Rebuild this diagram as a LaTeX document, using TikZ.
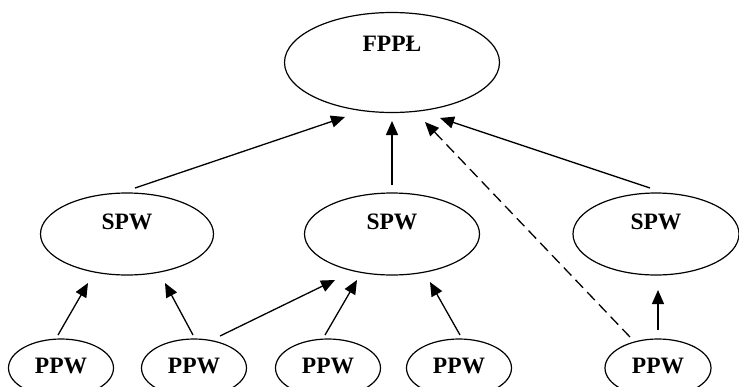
\documentclass[tikz,border=0pt]{standalone}
\usepackage{fontspec}
\setmainfont{Liberation Serif}
\usetikzlibrary{shapes.geometric,arrows.meta,calc}
\tikzset{
  ell/.style={draw, ellipse, line width=1.2pt, inner sep=0pt},
  lbl/.style={inner sep=0pt, font=\bfseries\fontsize{23.5}{26}\selectfont},
  arr/.style={line width=1.3pt, -{Triangle[length=14pt,width=12pt]}},
  dsh/.style={arr, dash pattern=on 11pt off 6pt}
}
\begin{document}
\begin{tikzpicture}[x=1pt,y=-1pt]
\useasboundingbox (0,0) rectangle (739,386);
\clip (0,0) rectangle (739,386);
% top
\node[ell, minimum width=215pt, minimum height=100pt,
      label={[lbl,yshift=19pt]center:FPPŁ}] (f) at (392,62.5) {};
% middle
\node[ell, minimum width=173pt, minimum height=82pt,
      label={[lbl,yshift=12pt]center:SPW}] (spw1) at (127,234) {};
\node[ell, minimum width=175pt, minimum height=82pt,
      label={[lbl,yshift=12pt]center:SPW}] (spw2) at (392,234) {};
\node[ell, minimum width=166pt, minimum height=82pt,
      label={[lbl,yshift=12pt]center:SPW}] (spw3) at (656,234) {};
% bottom
\node[ell, minimum width=105pt, minimum height=58pt,
      label={[lbl,yshift=2pt]center:PPW}] (ppw1) at (61,368) {};
\node[ell, minimum width=105pt, minimum height=58pt,
      label={[lbl,yshift=2pt]center:PPW}] (ppw2) at (194,368) {};
\node[ell, minimum width=105pt, minimum height=58pt,
      label={[lbl,yshift=2pt]center:PPW}] (ppw3) at (328,368) {};
\node[ell, minimum width=105pt, minimum height=58pt,
      label={[lbl,yshift=2pt]center:PPW}] (ppw4) at (459,368) {};
\node[ell, minimum width=106pt, minimum height=58pt,
      label={[lbl,yshift=2pt]center:PPW}] (ppw5) at (658,368) {};
% connectors to top
\draw[arr] ($(spw1)+(8,-46)$) -- ($(f)+(-47,54.5)$);
\draw[arr] ($(spw2)+(0,-49)$) -- ($(f)+(0,58.5)$);
\draw[dsh] ($(ppw5)+(-28,-31)$) -- ($(f)+(33,59.5)$);
\draw[arr] ($(spw3)+(-6,-46)$) -- ($(f)+(48,55.5)$);
% connectors to middle
\draw[arr] ($(ppw1)+(-3,-33)$) -- ($(spw1)+(-39,49)$);
\draw[arr] ($(ppw2)+(-1,-33)$) -- ($(spw1)+(38,49)$);
\draw[arr] ($(ppw2)+(26,-32)$) -- ($(spw2)+(-57,46)$);
\draw[arr] ($(ppw3)+(-3,-33)$) -- ($(spw2)+(-35,46)$);
\draw[arr] ($(ppw4)+(1,-33)$) -- ($(spw2)+(38,48)$);
\draw[arr] ($(ppw5)+(0,-38)$) -- ($(spw3)+(2,56)$);
\end{tikzpicture}
\end{document}
